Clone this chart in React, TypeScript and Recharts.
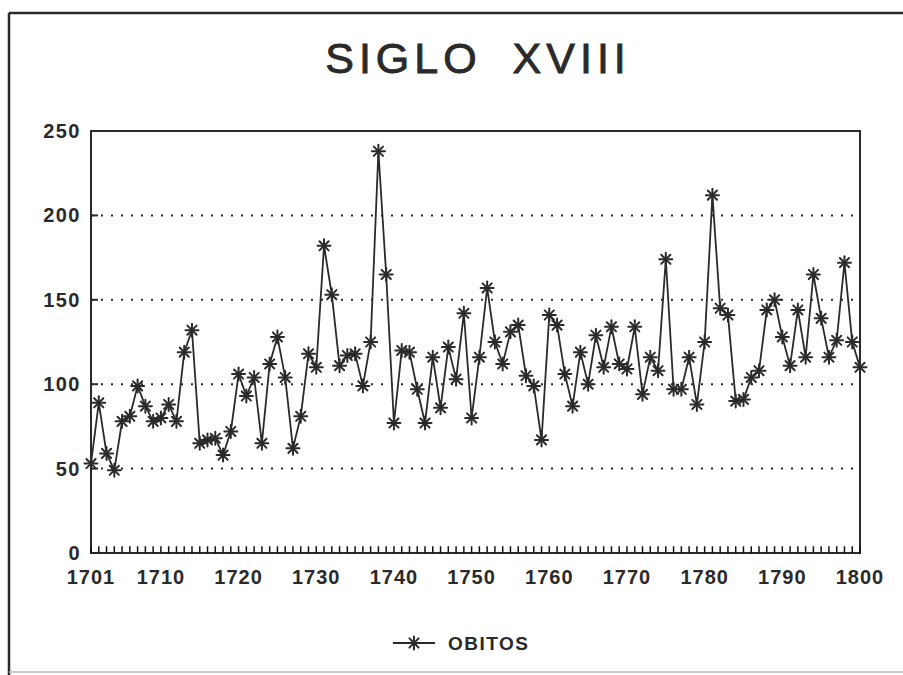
import {
  LineChart,
  Line,
  XAxis,
  YAxis,
  CartesianGrid,
  ReferenceArea,
  ReferenceLine,
} from 'recharts'

// deaths per year, 1701 .. 1800
const obitos = [
  53, 89, 59, 49, 78, 81, 99, 87, 78, 80,
  88, 78, 119, 132, 65, 67, 68, 58, 72, 106,
  93, 104, 65, 112, 128, 104, 62, 81, 118, 110,
  182, 153, 111, 117, 118, 99, 125, 238, 165, 77,
  120, 119, 97, 77, 116, 86, 122, 103, 142, 80,
  116, 157, 125, 112, 131, 135, 105, 99, 67, 141,
  135, 106, 87, 119, 100, 129, 110, 134, 112, 109,
  134, 94, 116, 108, 174, 97, 97, 116, 88, 125,
  212, 145, 141, 90, 91, 104, 108, 144, 150, 128,
  111, 144, 116, 165, 139, 116, 126, 172, 125, 110,
]
const firstYear = 1701
const yearLabels = [1701, 1710, 1720, 1730, 1740, 1750, 1760, 1770, 1780, 1790, 1800]
const yTicks = [0, 50, 100, 150, 200, 250]
// inward year ticks, in value units (about 7px on this scale)
const minorTickLen = 4

const data = obitos.map((v, i) => ({ year: firstYear + i, obitos: v }))
const allYears = data.map((d) => d.year)

const ink = '#2a2a2a'
const font = '"Liberation Sans", Arial, sans-serif'

const Asterisk = ({ cx, cy, r = 6.5 }: { cx?: number; cy?: number; r?: number }) => {
  if (cx == null || cy == null) return null
  const d = r * 0.707
  return (
    <g stroke={ink} strokeWidth={2} strokeLinecap="round">
      <line x1={cx - r} y1={cy} x2={cx + r} y2={cy} />
      <line x1={cx} y1={cy - r} x2={cx} y2={cy + r} />
      <line x1={cx - d} y1={cy - d} x2={cx + d} y2={cy + d} />
      <line x1={cx - d} y1={cy + d} x2={cx + d} y2={cy - d} />
    </g>
  )
}

// plot box edges, kept in sync with the chart margin
const plotLeft = 91
const plotBottom = 553

const renderYearLabel = (props: any) => {
  const { x, payload, index } = props
  return (
    <text
      key={`yl-${index}`}
      x={x}
      y={plotBottom + 31}
      textAnchor="middle"
      fontFamily={font}
      fontWeight="bold"
      fontSize={20}
      letterSpacing={1}
      fill={ink}
    >
      {payload.value}
    </text>
  )
}

const renderValueTick = (props: any) => {
  const { y, payload, index } = props
  const x = plotLeft
  return (
    <g key={`vt-${index}`}>
      <line x1={x} y1={y} x2={x + 7} y2={y} stroke={ink} strokeWidth={2} />
      <text
        x={x - 10}
        y={y + 7}
        textAnchor="end"
        fontFamily={font}
        fontWeight="bold"
        fontSize={20}
        letterSpacing={1.5}
        fill={ink}
      >
        {payload.value}
      </text>
    </g>
  )
}

export default function App() {
  return (
    <div style={{ position: 'relative', width: 903, height: 675, background: '#fff' }}>
      <style>{'body{margin:0}'}</style>
      <LineChart
        width={903}
        height={675}
        data={data}
        margin={{ top: 131, right: 43, left: 90, bottom: 121 }}
      >
        <CartesianGrid
          vertical={false}
          stroke={ink}
          strokeWidth={2}
          strokeDasharray="2 8"
        />
        <XAxis
          dataKey="year"
          type="number"
          domain={[1701, 1800]}
          ticks={yearLabels}
          interval={0}
          height={1}
          tickSize={0}
          tickMargin={0}
          axisLine={false}
          tickLine={false}
          tick={renderYearLabel}
        />
        <YAxis
          type="number"
          domain={[0, 250]}
          ticks={yTicks}
          width={1}
          tickSize={0}
          tickMargin={0}
          axisLine={false}
          tickLine={false}
          tick={renderValueTick}
        />
        {allYears.map((yr) => (
          <ReferenceLine
            key={yr}
            segment={[
              { x: yr, y: 0 },
              { x: yr, y: minorTickLen },
            ]}
            stroke="#111"
            strokeWidth={1.5}
          />
        ))}
        <ReferenceArea
          x1={1701}
          x2={1800}
          y1={0}
          y2={250}
          fill="none"
          stroke={ink}
          strokeWidth={2}
          fillOpacity={0}
        />
        <Line
          type="linear"
          dataKey="obitos"
          stroke={ink}
          strokeWidth={1.8}
          dot={(p: any) => <Asterisk key={p.index} cx={p.cx} cy={p.cy} />}
          activeDot={false}
          isAnimationActive={false}
        />
      </LineChart>
      <svg
        width={903}
        height={675}
        style={{ position: 'absolute', left: 0, top: 0, pointerEvents: 'none' }}
      >
        <line x1={9} y1={13} x2={903} y2={13} stroke={ink} strokeWidth={2.5} />
        <line x1={9} y1={13} x2={9} y2={675} stroke={ink} strokeWidth={2.5} />
        <line x1={9} y1={672} x2={903} y2={672} stroke="#bbb" strokeWidth={1.5} />
        <text
          x={478}
          y={73}
          textAnchor="middle"
          fontFamily={font}
          fontSize={43}
          letterSpacing={5}
          wordSpacing={14}
          fill={ink}
          stroke={ink}
          strokeWidth={0.9}
        >
          SIGLO XVIII
        </text>
        <line x1={393} y1={643} x2={435} y2={643} stroke={ink} strokeWidth={1.8} />
        <Asterisk cx={414} cy={643} />
        <text
          x={448}
          y={650}
          fontFamily={font}
          fontWeight="bold"
          fontSize={19}
          letterSpacing={1.5}
          fill={ink}
        >
          OBITOS
        </text>
      </svg>
    </div>
  )
}
